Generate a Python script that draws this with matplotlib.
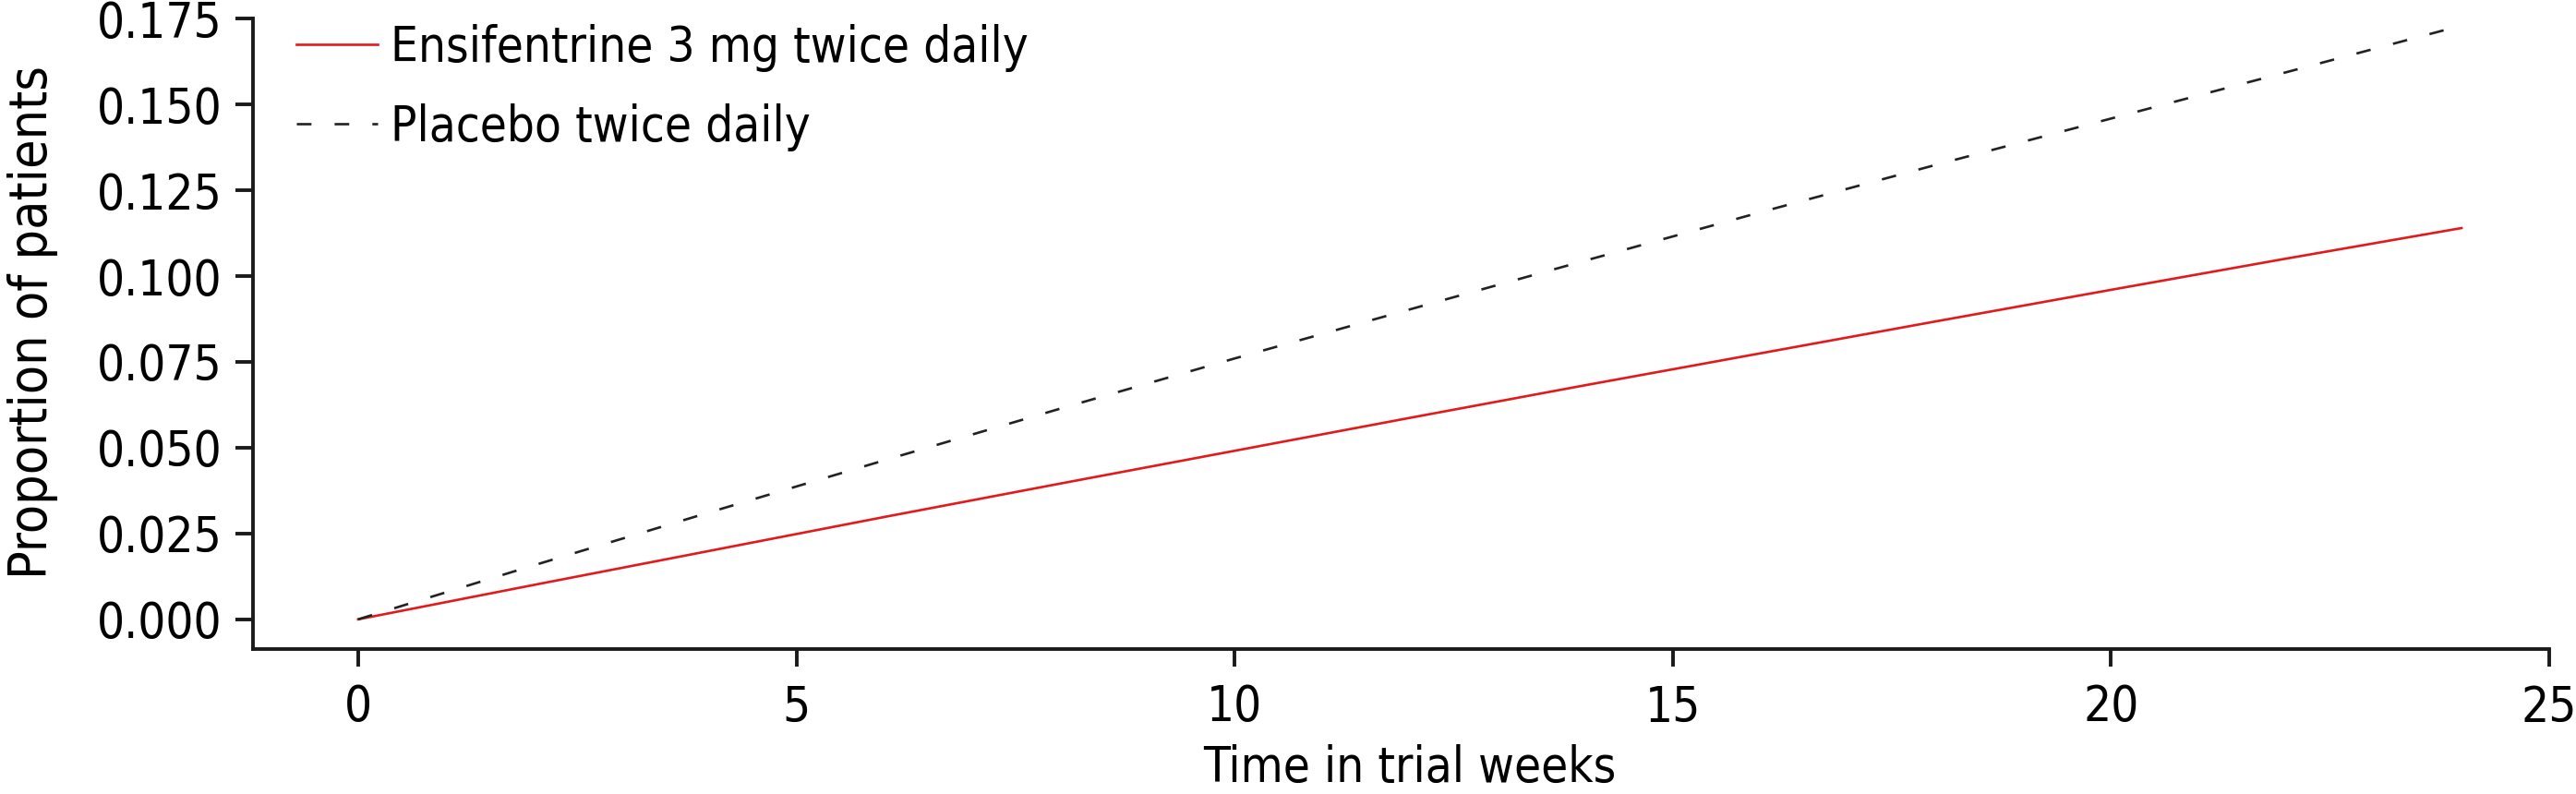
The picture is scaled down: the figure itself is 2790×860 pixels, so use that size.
import matplotlib
matplotlib.use("Agg")
import matplotlib.pyplot as plt

# cumulative proportion of patients, read at every 2 weeks
weeks = [0, 2, 4, 6, 8, 10, 12, 14, 16, 18, 20, 22, 24]
ensifentrine = [0.0, 0.0100, 0.0199, 0.0298, 0.0395, 0.0491, 0.0587,
                0.0682, 0.0775, 0.0868, 0.0960, 0.1051, 0.1140]
placebo = [0.0, 0.0157, 0.0311, 0.0463, 0.0613, 0.0760, 0.0903,
           0.1045, 0.1186, 0.1324, 0.1459, 0.1594, 0.1730]
labels = ["Ensifentrine 3 mg twice daily", "Placebo twice daily"]
yticks = [0.0, 0.025, 0.05, 0.075, 0.1, 0.125, 0.15, 0.175]
xticks = [0, 5, 10, 15, 20, 25]

plt.rcParams["font.family"] = ["DejaVu Sans"]
plt.rcParams["font.stretch"] = "condensed"

fig = plt.figure(figsize=(27.9, 8.6), dpi=100)
ax = fig.add_axes([0.0982, 0.1826, 0.8982, 0.8224])

ax.plot(weeks, ensifentrine, color="#e31a1c", lw=1.9, label=labels[0])
ax.plot(weeks, placebo, color="#222222", lw=1.9, dashes=(6, 9.5), label=labels[1])

ax.set_xlim(-1.2, 25.2)
ax.set_ylim(-0.00865, 0.1816)
ax.set_xticks(xticks)
ax.set_yticks(yticks)
ax.set_yticklabels([f"{v:.3f}" for v in yticks])

for side in ("top", "right"):
    ax.spines[side].set_visible(False)
ax.spines["left"].set_bounds(-0.00865, 0.175)
ax.spines["bottom"].set_bounds(-1.2, 25)
for side in ("left", "bottom"):
    ax.spines[side].set_linewidth(2.8)
    ax.spines[side].set_color("#1a1a1a")

ax.tick_params(axis="both", length=14, width=2.8, color="#1a1a1a",
               labelsize=38, pad=10)
ax.tick_params(axis="x", pad=13)
ax.set_xlabel("Time in trial weeks", fontsize=38, labelpad=10)
ax.set_ylabel("Proportion of patients", fontsize=41, labelpad=30)

ax.legend(loc="upper left", bbox_to_anchor=(0.0, 1.025), frameon=False,
          fontsize=38, handlelength=1.65, handletextpad=0.27, labelspacing=0.65)

fig.savefig("out.png", dpi=100)
